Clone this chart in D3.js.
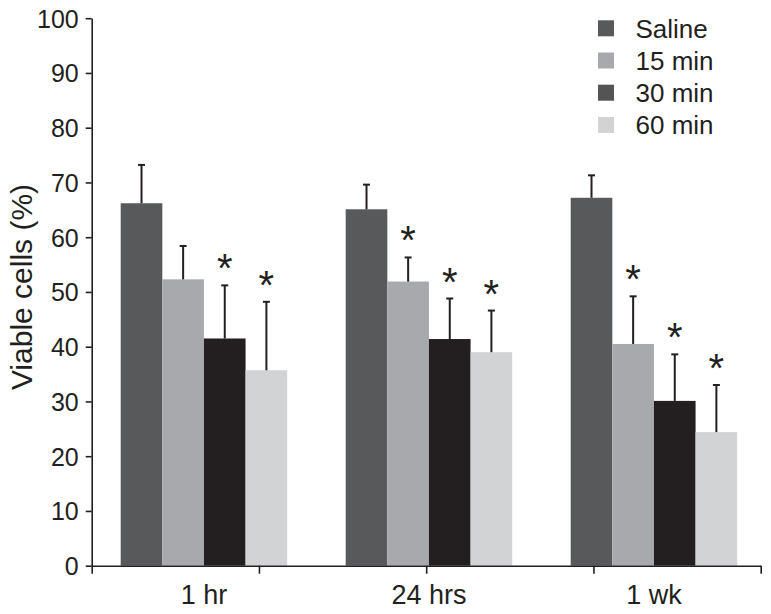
<!DOCTYPE html>
<html><head><meta charset="utf-8">
<script src="https://cdn.jsdelivr.net/npm/d3@7"></script>
<style>
body{margin:0;background:#fff}
svg{display:block}
text{font-family:"Liberation Sans",Arial,sans-serif;fill:#231f20}
</style>
</head><body>
<svg id="c" width="771" height="614"></svg>
<script>
// ---- data ----
const categories = ["1 hr", "24 hrs", "1 wk"];
const series = ["Saline", "15 min", "30 min", "60 min"];
const saline = [66.2, 65.1, 67.2];
const min15 = [52.3, 51.9, 40.5];
const min30 = [41.5, 41.4, 30.1];
const min60 = [35.7, 39.0, 24.4];
const salineErr = [7.0, 4.5, 4.1];
const min15Err = [6.1, 4.4, 8.7];
const min30Err = [9.7, 7.4, 8.5];
const min60Err = [12.5, 7.6, 8.6];
const salineSig = [0, 0, 0];
const min15Sig = [0, 1, 1];
const min30Sig = [1, 1, 1];
const min60Sig = [1, 1, 1];
const yTicks = [0, 10, 20, 30, 40, 50, 60, 70, 80, 90, 100];
const yLabel = "Viable cells (%)";
const barColors = ["#58595b", "#a7a9ac", "#231f20", "#d1d3d4"];
const legendColors = ["#58595b", "#a7a9ac", "#545456", "#d1d3d4"];

const means = [saline, min15, min30, min60];
const errs = [salineErr, min15Err, min30Err, min60Err];
const sigs = [salineSig, min15Sig, min30Sig, min60Sig];

const rows = [];
categories.forEach((c, ci) => series.forEach((s, si) => rows.push({
  cat: c, ser: s, si, v: means[si][ci], e: errs[si][ci], sig: sigs[si][ci]
})));

const svg = d3.select("#c");

const y = d3.scaleLinear().domain([0, 100]).range([565.7, 18.2]);
const x0 = d3.scaleBand().domain(categories).range([93.7, 764.2]).paddingInner(0.26).paddingOuter(0.12);
const x1 = d3.scaleBand().domain(series).range([0, x0.bandwidth()]);
const xt = d3.scaleLinear().domain([0, 4]).range([91.7, 760.7]);
const color = d3.scaleOrdinal().domain(series).range(barColors);
const cx = d => x0(d.cat) + x1(d.ser) + x1.bandwidth() / 2;

// bars
svg.append("g").selectAll("rect").data(rows).join("rect")
  .attr("x", d => x0(d.cat) + x1(d.ser))
  .attr("y", d => y(d.v))
  .attr("width", x1.bandwidth())
  .attr("height", d => y(0) - y(d.v))
  .attr("fill", d => color(d.ser));

// error bars
const eg = svg.append("g").attr("stroke", "#231f20").attr("stroke-width", 2);
eg.selectAll("line.v").data(rows).join("line").attr("class", "v")
  .attr("x1", cx).attr("x2", cx)
  .attr("y1", d => y(d.v)).attr("y2", d => y(d.v + d.e));
eg.selectAll("line.c").data(rows).join("line").attr("class", "c")
  .attr("x1", d => cx(d) - 3.5).attr("x2", d => cx(d) + 3.5)
  .attr("y1", d => y(d.v + d.e)).attr("y2", d => y(d.v + d.e));

// significance asterisks
svg.append("g").selectAll("text").data(rows.filter(d => d.sig)).join("text")
  .attr("x", cx)
  .attr("y", d => y(d.v + d.e) - 20 + 17)
  .attr("text-anchor", "middle")
  .style("font-size", "40px")
  .text("*");

// y axis
const ya = svg.append("g").attr("transform", "translate(91.7,0)")
  .call(d3.axisLeft(y).tickValues(yTicks).tickSize(6).tickSizeOuter(0).tickPadding(7));
ya.selectAll("path,line").attr("stroke", "#231f20").attr("stroke-width", 1.6);
ya.selectAll("text").style("font-size", "25px").attr("dy", "0.36em");

// x axis (plain ticks)
const xa = svg.append("g").attr("transform", `translate(0,${y(0)})`)
  .call(d3.axisBottom(xt).tickValues([0, 1, 2, 3, 4]).tickSize(8).tickSizeOuter(0).tickFormat(""));
xa.selectAll("path,line").attr("stroke", "#231f20").attr("stroke-width", 1.6);

// category labels
svg.append("g").selectAll("text").data(categories).join("text")
  .attr("x", d => x0(d) + x0.bandwidth() / 2)
  .attr("y", 604)
  .attr("text-anchor", "middle")
  .style("font-size", "27px")
  .text(d => d);

// y label
svg.append("text")
  .attr("transform", `translate(32,287) rotate(-90)`)
  .attr("text-anchor", "middle")
  .style("font-size", "30px")
  .text(yLabel);

// legend
const lg = svg.append("g").selectAll("g").data(series).join("g")
  .attr("transform", (d, i) => `translate(598,${28.3 + i * 32.2})`);
lg.append("rect").attr("x", 0).attr("y", -8).attr("width", 16).attr("height", 16)
  .attr("fill", (d, i) => legendColors[i]);
lg.append("text").attr("x", 37.5).attr("y", 9.5).style("font-size", "26px").text(d => d);
</script>
</body></html>
